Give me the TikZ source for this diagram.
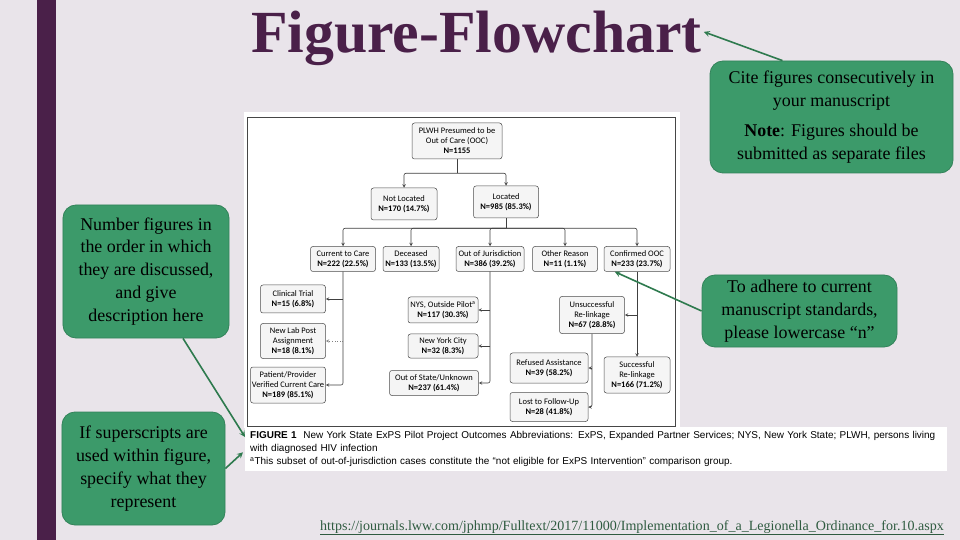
\documentclass[tikz,border=0pt]{standalone}
\usepackage{fontspec}
\setmainfont{Liberation Serif}
\newfontfamily\boxfont{Carlito}
\newfontfamily\capfont{Liberation Sans}
\usepackage{tikz}
\usetikzlibrary{positioning}
\usetikzlibrary{arrows}
\usetikzlibrary{calc}
\definecolor{slidebg}{HTML}{E9E4EA}
\definecolor{slidepurple}{HTML}{4A2049}
\definecolor{calloutgreen}{HTML}{3C9A6A}
\definecolor{arrowgreen}{HTML}{2E7A4E}
\definecolor{urlgreen}{HTML}{2F5B40}
\tikzset{
    flowbox/.style={ % Boxes of the flowchart
        draw=gray!60!black,
        fill=gray!8,
        rounded corners=2.5bp,
        line width=0.5bp,
        align=center,
        inner sep=0pt,
        font=\boxfont\fontsize{8.5}{10}\selectfont
    },
    boxsize/.style 2 args={minimum width=#1bp, minimum height=#2bp},
    flowline/.style={draw=gray!50!black, line width=0.6bp, rounded corners=2bp},
    flowarrow/.style={flowline, ->, >=stealth}, % Small arrows inside the figure
    callout/.style={ % Green notes round the figure
        fill=calloutgreen,
        draw=calloutgreen!85!black,
        line width=0.8bp,
        rounded corners=13bp,
        align=center,
        font=\fontsize{18}{23}\selectfont
    },
    callarrow/.style={draw=arrowgreen, line width=1.6bp, ->, >=stealth}
}

\begin{document}
\begin{tikzpicture}[x=1bp, y=-1bp]
    \useasboundingbox (0,0) rectangle (960,540);
    \fill[slidebg] (0,0) rectangle (960,540);
    \fill[slidepurple] (37,0) rectangle (56,540);

    \node[anchor=base west, inner sep=0pt, text=slidepurple, font=\bfseries\fontsize{60}{60}\selectfont] (title) at (251,53) {Figure-Flowchart};

    % the figure itself
    \fill[white] (244,112) rectangle (680,428);
    \draw[gray!55!black, line width=1bp] (247,118) rectangle (675,426);

    \node[flowbox, boxsize={90}{36}] (plwh) at (457,141) {PLWH Presumed to be\\Out of Care (OOC)\\\textbf{N=1155}};
    \node[flowbox, boxsize={66}{32}] (notloc) at (404,204) {Not Located\\\textbf{N=170 (14.7\%)}};
    \node[flowbox, boxsize={65}{32}] (loc) at (506,202) {Located\\\textbf{N=985 (85.3\%)}};

    \node[flowbox, boxsize={65}{25}] (cur) at (343,259) {Current to Care\\\textbf{N=222 (22.5\%)}};
    \node[flowbox, boxsize={56}{25}] (dec) at (411,259) {Deceased\\\textbf{N=133 (13.5\%)}};
    \node[flowbox, boxsize={68}{25}] (ooj) at (490,259) {Out of Jurisdiction\\\textbf{N=386 (39.2\%)}};
    \node[flowbox, boxsize={65}{25}] (oth) at (565,259) {Other Reason\\\textbf{N=11 (1.1\%)}};
    \node[flowbox, boxsize={66}{25}] (conf) at (637,259) {Confirmed OOC\\\textbf{N=233 (23.7\%)}};

    \node[flowbox, boxsize={65}{28}] (clin) at (293,299) {Clinical Trial\\\textbf{N=15 (6.8\%)}};
    \node[flowbox, boxsize={65}{35}] (lab) at (293,341) {New Lab Post\\Assignment\\\textbf{N=18 (8.1\%)}};
    \node[flowbox, boxsize={75}{36}] (pat) at (288,385) {Patient/Provider\\Verified Current Care\\\textbf{N=189 (85.1\%)}};

    \node[flowbox, boxsize={70}{26}] (nys) at (443,310) {NYS, Outside Pilot\textsuperscript{a}\\\textbf{N=117 (30.3\%)}};
    \node[flowbox, boxsize={70}{24}] (nyc) at (443,346) {New York City\\\textbf{N=32 (8.3\%)}};
    \node[flowbox, boxsize={89}{25}] (oos) at (434,383) {Out of State/Unknown\\\textbf{N=237 (61.4\%)}};

    \node[flowbox, boxsize={65}{37}] (unsuc) at (592,315) {Unsuccessful\\Re-linkage\\\textbf{N=67 (28.8\%)}};
    \node[flowbox, boxsize={78}{30}] (refu) at (549,368) {Refused Assistance\\\textbf{N=39 (58.2\%)}};
    \node[flowbox, boxsize={78}{29}] (lost) at (549,407) {Lost to Follow-Up\\\textbf{N=28 (41.8\%)}};
    \node[flowbox, boxsize={66}{36}] (succ) at (637,375) {Successful\\Re-linkage\\\textbf{N=166 (71.2\%)}};

    \draw[flowline] (plwh.south) -- ++(0,14) coordinate (s1);
    \draw[flowarrow] (s1) -| (notloc.north);
    \draw[flowarrow] (s1) -| (loc.north);
    \draw[flowline] (loc.south) -- ++(0,10) coordinate (s2);
    \foreach \b in {cur,dec,ooj,oth,conf}
        \draw[flowarrow] (s2) -| (\b.north);

    \draw[flowarrow] (cur.south) |- (pat.east);
    \draw[flowarrow] (cur.south |- clin.east) -- (clin.east);
    \draw[flowarrow, dotted, gray] (cur.south |- lab.east) -- (lab.east);

    \draw[flowarrow] (ooj.south) |- (oos.east);
    \draw[flowarrow] (ooj.south |- nys.east) -- (nys.east);
    \draw[flowarrow] (ooj.south |- nyc.east) -- (nyc.east);

    \draw[flowarrow] (conf.south) -- (succ.north);
    \draw[flowarrow] (conf.south |- unsuc.east) -- (unsuc.east);
    \draw[flowarrow] (unsuc.south) |- (lost.east);
    \draw[flowarrow] (unsuc.south |- refu.east) -- (refu.east);

    % caption under the figure
    \node[anchor=north west, fill=white, text width=692bp, inner xsep=5bp, inner ysep=4.5bp, align=left,
          font=\capfont\fontsize{10}{13}\selectfont] (caption) at (245,427)
        {\textbf{FIGURE 1}\ \ New York State ExPS Pilot Project Outcomes Abbreviations: ExPS, Expanded Partner Services; NYS, New York State; PLWH, persons living\\
         with diagnosed HIV infection\\
         \textsuperscript{a}This subset of out-of-jurisdiction cases constitute the “not eligible for ExPS Intervention” comparison group.};

    % green notes
    \node[callout, minimum width=243bp, minimum height=112bp] (cite) at (831.5,117)
        {Cite figures consecutively in\\your manuscript\\[7bp]\textbf{Note}: Figures should be\\submitted as separate files};
    \node[callout, minimum width=166bp, minimum height=133bp] (numfig) at (146,271.5)
        {Number figures in\\the order in which\\they are discussed,\\and give\\description here};
    \node[callout, minimum width=163bp, minimum height=113bp] (super) at (143.5,468.5)
        {If superscripts are\\used within figure,\\specify what they\\represent};
    \node[callout, minimum width=195bp, minimum height=72bp] (adhere) at (799.5,311)
        {To adhere to current\\manuscript standards,\\please lowercase “n”};

    \draw[callarrow] (cite.131) -- ($(title.east)+(2,-7)$);
    \draw[callarrow] ($(numfig.south)+(37,0)$) -- ($(caption.north west)+(0,10)$);
    \draw[callarrow] (super.east) -- ($(caption.west)+(-2,3)$);
    \draw[callarrow] (adhere.west) -- ($(conf.south west)+(11,0)$);

    \node[anchor=base west, inner sep=0pt, text=urlgreen, font=\fontsize{14.1}{14}\selectfont] (url) at (320,530)
        {\underline{https://journals.lww.com/jphmp/Fulltext/2017/11000/Implementation\_of\_a\_Legionella\_Ordinance\_for.10.aspx}};
\end{tikzpicture}
\end{document}
